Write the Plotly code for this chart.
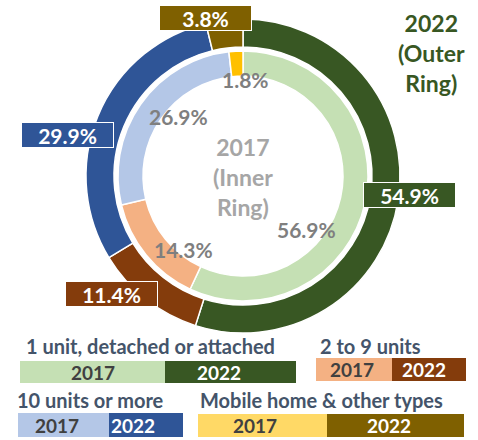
import plotly.graph_objects as go

# Housing type shares (percent), 2017 inner ring, 2022 outer ring
categories = ["1 unit, detached or attached", "2 to 9 units",
              "10 units or more", "Mobile home & other types"]
share_2017 = [56.9, 14.3, 26.9, 1.8]
share_2022 = [54.9, 11.4, 29.9, 3.8]

colors_2017 = ["#C5E0B4", "#F4B183", "#B4C7E7", "#FFC000"]
colors_2022 = ["#385723", "#843C0C", "#2F5597", "#7F6000"]
legend_2017 = ["#C5E0B4", "#F4B183", "#B4C7E7", "#FFD966"]

W, H = 478, 440
FONT = "Lato"


def px(x):
    return x / W


def py(y):
    return 1 - y / H


# ring geometry (pixels)
cx, cy = 243, 176
r_out, r_in = 157, 125

fig = go.Figure()
fig.add_trace(go.Pie(
    values=share_2022, labels=categories, sort=False, direction="clockwise",
    rotation=0, hole=129 / 157, textinfo="none", hoverinfo="label+value",
    marker=dict(colors=colors_2022, line=dict(color="white", width=1.5)),
    domain=dict(x=[px(cx - r_out), px(cx + r_out)], y=[py(cy + r_out), py(cy - r_out)]),
    showlegend=False,
))
fig.add_trace(go.Pie(
    values=share_2017, labels=categories, sort=False, direction="clockwise",
    rotation=0, hole=0.8, textinfo="none", hoverinfo="label+value",
    marker=dict(colors=colors_2017, line=dict(color="white", width=1.5)),
    domain=dict(x=[px(cx - r_in), px(cx + r_in)], y=[py(cy + r_in), py(cy - r_in)]),
    showlegend=False,
))

annotations = []


def note(x, y, text, size, color, xanchor="center", **kw):
    annotations.append(dict(
        x=px(x), y=py(y), xref="paper", yref="paper", showarrow=False,
        xanchor=xanchor, yanchor="middle", text=text,
        font=dict(family=FONT, size=size, color=color), **kw,
    ))


# value labels
inner_label_pos = [(306, 229), (183, 249), (178, 117), (245, 79)]
outer_label_pos = [(409.5, 195), (111, 293.5), (67.5, 134.5), (205, 17.5)]
for v, (x, y) in zip(share_2017, inner_label_pos):
    note(x, y, f"<b>{v:.1f}%</b>", 21, "#7F7F7F")
for v, c, (x, y) in zip(share_2022, colors_2022, outer_label_pos):
    note(x, y, f"<b>{v:.1f}%</b>", 21, "white",
         bgcolor=c, bordercolor="white", borderwidth=1, borderpad=1,
         width=89, height=22)

# ring titles
note(cx, 177, "<b>2017<br>(Inner<br>Ring)</b>", 23, "#A6A6A6")
note(431, 53, "<b>2022<br>(Outer<br>Ring)</b>", 23, "#385723")

# custom legend: title position, box (x0, xmid, x1, y0, y1), year text x
legend_titles = [(24, 346), (318, 346), (15, 400), (198, 400)]
legend_boxes = [(20, 165, 296, 361, 383), (316, 392, 466, 358, 381),
                (18, 109, 183, 413, 437), (198, 327, 464, 414, 437)]
year_text_x = [(93, 219), (352, 424), (57, 133), (255, 389)]

shapes = []
for i, name in enumerate(categories):
    tx, ty = legend_titles[i]
    note(tx, ty, f"<b>{name}</b>", 20, "#44546A", xanchor="left")
    x0, xm, x1, y0, y1 = legend_boxes[i]
    shapes.append(dict(type="rect", xref="paper", yref="paper",
                       x0=px(x0), x1=px(xm), y0=py(y1), y1=py(y0),
                       fillcolor=legend_2017[i], line=dict(width=0), layer="above"))
    shapes.append(dict(type="rect", xref="paper", yref="paper",
                       x0=px(xm), x1=px(x1), y0=py(y1), y1=py(y0),
                       fillcolor=colors_2022[i], line=dict(width=0), layer="above"))
    ymid = (y0 + y1) / 2
    note(year_text_x[i][0], ymid, "<b>2017</b>", 19, "#404040")
    note(year_text_x[i][1], ymid, "<b>2022</b>", 19, "white")

fig.update_layout(
    width=W, height=H, margin=dict(l=0, r=0, t=0, b=0),
    paper_bgcolor="white", plot_bgcolor="white",
    annotations=annotations, shapes=shapes,
)

# drop the default body margin so the figure fills the window
fig.write_html("out.html", config={"displayModeBar": False},
               post_script="document.body.style.margin='0';")
